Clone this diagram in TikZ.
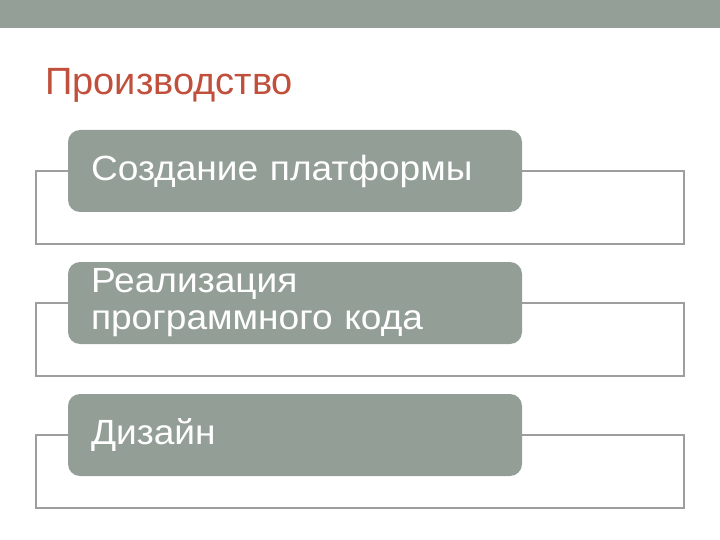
\documentclass[tikz,border=0pt]{standalone}
\usepackage{fontspec}
\setmainfont{Liberation Sans}
\newfontfamily\boxfont[FakeStretch=1.06]{Liberation Sans}
\definecolor{bandgray}{RGB}{148,159,151}
\definecolor{boxgray}{RGB}{147,158,150}
\definecolor{framegray}{RGB}{158,158,158}
\definecolor{titlered}{RGB}{192,80,60}

\begin{document}
\begin{tikzpicture}[x=1pt, y=1pt,
        frame/.style={draw=framegray, line width=1.5pt, fill=white, minimum width=648pt, minimum height=73pt, inner sep=0pt},
        stage/.style={fill=boxgray, rounded corners=12pt, minimum width=454pt, minimum height=82pt, text width=408pt, inner xsep=23pt, inner ysep=0pt, align=left, text=white, font=\boxfont\fontsize{35}{37}\selectfont}]
        \useasboundingbox (0,0) rectangle (720,-540);
        \fill[bandgray] (0,0) rectangle (720,-28);
        \node[anchor=base west, inner sep=0pt, text=titlered, font=\fontsize{38}{40}\selectfont](Title) at (45,-95) {Производство};

        \node[frame](Frame1) at (360,-207.5) {};
        \node[frame](Frame2) at (360,-339.5) {};
        \node[frame](Frame3) at (360,-471.5) {};

        \node[stage](Platform) at (295,-171) {Создание платформы};
        \node[stage](Code) at (295,-303) {Реализация\\программного кода};
        \node[stage](Design) at (295,-435) {Дизайн};
    \end{tikzpicture}
\end{document}
